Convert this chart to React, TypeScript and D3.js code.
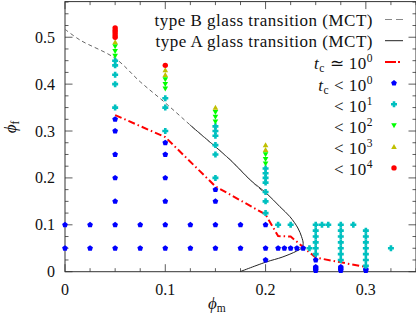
import React from "react";
import * as d3 from "d3";

const W = 416;
const H = 313;
const FONT = "'Liberation Serif', 'Times New Roman', serif";

// axis ticks
const xTickValues = [0, 0.1, 0.2, 0.3];
const xTickLabels = ["0", "0.1", "0.2", "0.3"];
const yTickValues = [0, 0.1, 0.2, 0.3, 0.4, 0.5];
const yTickLabels = ["0", "0.1", "0.2", "0.3", "0.4", "0.5"];

// type B glass transition (MCT), dashed
const typeBPhiM = [0, 0.015, 0.05, 0.075, 0.1, 0.13, 0.165, 0.185, 0.2];
const typeBPhiF = [0.517, 0.494, 0.455, 0.405, 0.36, 0.303, 0.238, 0.195, 0.166];

// type A glass transition (MCT), solid
const typeAPhiM = [0.1246, 0.13, 0.165, 0.185, 0.201, 0.2143, 0.2243, 0.2322, 0.2359, 0.2375, 0.2362, 0.231, 0.2165, 0.201, 0.1745];
const typeAPhiF = [0.313, 0.303, 0.238, 0.195, 0.167, 0.1386, 0.1173, 0.0932, 0.0746, 0.06, 0.051, 0.044, 0.031, 0.021, 0.0];

// t_c ~ 10^0 line, dash-dot red
const tcLinePhiM = [0.05, 0.1, 0.15, 0.2, 0.2125, 0.225, 0.25, 0.275, 0.3];
const tcLinePhiF = [0.334, 0.287, 0.182, 0.122, 0.076, 0.075, 0.03, 0.02, 0.01];

// points [phi_m, phi_f]
const tcBelow1: [number, number][] = [
  [0, 0.05], [0, 0.1], [0.025, 0.05], [0.025, 0.1],
  [0.05, 0.05], [0.05, 0.1], [0.05, 0.15], [0.05, 0.2], [0.05, 0.25], [0.05, 0.3], [0.05, 0.325],
  [0.075, 0.05], [0.075, 0.1],
  [0.1, 0.05], [0.1, 0.1], [0.1, 0.15], [0.1, 0.2], [0.1, 0.25], [0.1, 0.275],
  [0.125, 0.05], [0.125, 0.1],
  [0.15, 0.05], [0.15, 0.1], [0.15, 0.15], [0.15, 0.175],
  [0.175, 0.05], [0.175, 0.1],
  [0.2, 0.025], [0.2, 0.05], [0.2, 0.1],
  [0.2125, 0.05], [0.21875, 0.05], [0.225, 0.05], [0.23125, 0.05], [0.2375, 0.05],
  [0.25, 0.025], [0.25, 0.01], [0.25, 0.0075], [0.25, 0.005], [0.25, 0.0025],
  [0.275, 0.01], [0.275, 0.0075], [0.275, 0.005], [0.275, 0.0025],
  [0.3, 0.005], [0.3, 0.0025],
];

const tcBelow10: [number, number][] = [
  [0.05, 0.35], [0.05, 0.4], [0.05, 0.42], [0.05, 0.44], [0.05, 0.45],
  [0.1, 0.3], [0.1, 0.35], [0.1, 0.37],
  [0.15, 0.2], [0.15, 0.25], [0.15, 0.27], [0.15, 0.29], [0.15, 0.3], [0.15, 0.31],
  [0.2, 0.125], [0.2, 0.15], [0.2, 0.17], [0.2, 0.19], [0.2, 0.2], [0.2, 0.21], [0.2, 0.22],
  [0.2125, 0.1], [0.225, 0.1], [0.24375, 0.05],
  [0.25, 0.1], [0.25, 0.0875], [0.25, 0.075], [0.25, 0.0625], [0.25, 0.05], [0.25, 0.0375],
  [0.25625, 0.1], [0.2625, 0.1],
  [0.275, 0.1], [0.275, 0.0875], [0.275, 0.075], [0.275, 0.0625], [0.275, 0.05], [0.275, 0.0375], [0.275, 0.025],
  [0.2875, 0.1],
  [0.3, 0.0875], [0.3, 0.075], [0.3, 0.0625], [0.3, 0.05], [0.3, 0.0375], [0.3, 0.025], [0.3, 0.0125],
  [0.325, 0.05],
];

const tcBelow100: [number, number][] = [
  [0.05, 0.46], [0.05, 0.47], [0.05, 0.48],
  [0.1, 0.39], [0.1, 0.4], [0.1, 0.41],
  [0.15, 0.32], [0.15, 0.33], [0.15, 0.34],
  [0.2, 0.23], [0.2, 0.24], [0.2, 0.25],
];

const tcBelow1000: [number, number][] = [
  [0.05, 0.49],
  [0.1, 0.42], [0.1, 0.43],
  [0.15, 0.35],
  [0.2, 0.26], [0.2, 0.27],
];

const tcBelow10000: [number, number][] = [
  [0.05, 0.5], [0.05, 0.505], [0.05, 0.51], [0.05, 0.515], [0.05, 0.52],
  [0.1, 0.44],
];

const BLUE = "#0000ff";
const CYAN = "#00c0c0";
const GREEN = "#00ff00";
const OLIVE = "#c0c000";
const RED = "#ff0000";

const poly = (pts: number[][]) => "M" + pts.map((p) => p.join(",")).join("L") + "Z";
const pentagonPath = (r: number) =>
  poly(d3.range(5).map((k) => {
    const a = -Math.PI / 2 + (k * 2 * Math.PI) / 5;
    return [r * Math.cos(a), r * Math.sin(a)];
  }));
const crossPath = (c: number, l: number) =>
  poly([[-c, -l], [c, -l], [c, -c], [l, -c], [l, c], [c, c], [c, l], [-c, l], [-c, c], [-l, c], [-l, -c], [-c, -c]]);
const triDown = (w: number, h: number) => poly([[-w, -h * 0.45], [w, -h * 0.45], [0, h * 0.55]]);
const triUp = (w: number, h: number) => poly([[-w, h * 0.45], [w, h * 0.45], [0, -h * 0.55]]);
const circlePath = (r: number) => `M${-r},0A${r},${r} 0 1,0 ${r},0A${r},${r} 0 1,0 ${-r},0Z`;

const SHAPES = {
  blue: pentagonPath(3),
  cyan: crossPath(1.3, 3),
  green: triDown(2.8, 5),
  olive: triUp(2.8, 5),
  red: circlePath(2.7),
};

export default function App() {
  const x = d3.scaleLinear().domain([0, 0.35]).range([65, 416]);
  const y = d3.scaleLinear().domain([0, 0.576]).range([271.7, 1.6]);

  const lineGen = (curve: any) =>
    d3.line<[number, number]>().x((d) => x(d[0])).y((d) => y(d[1])).curve(curve);

  const bPts = typeBPhiM.map((m, i) => [m, typeBPhiF[i]] as [number, number]);
  const aPts = typeAPhiM.map((m, i) => [m, typeAPhiF[i]] as [number, number]);
  const rPts = tcLinePhiM.map((m, i) => [m, tcLinePhiF[i]] as [number, number]);

  const xMinor = d3.range(0, 0.3501, 0.025);
  const yMinor = d3.range(0, 0.576, 0.025);
  const isMajor = (v: number) => Math.abs(v * 10 - Math.round(v * 10)) < 1e-6;

  const x0 = x(0), x1 = x(0.35), y0 = y(0), y1 = y(0.576);
  const axisColor = "#333";

  const groups: { pts: [number, number][]; shape: string; color: string }[] = [
    { pts: tcBelow1, shape: SHAPES.blue, color: BLUE },
    { pts: tcBelow10, shape: SHAPES.cyan, color: CYAN },
    { pts: tcBelow100, shape: SHAPES.green, color: GREEN },
    { pts: tcBelow1000, shape: SHAPES.olive, color: OLIVE },
    { pts: tcBelow10000, shape: SHAPES.red, color: RED },
  ];

  const legX = 373;
  const sampleX0 = 385, sampleX1 = 403, sampleXC = 394;
  const rowY = (i: number) => 19.5 + 21.2 * i;
  const fs = 16;
  const lfs = 17;
  const sub = 11.5;

  return (
    <svg width={W} height={H} style={{ position: "absolute", left: 0, top: 0, background: "#fff" }} fontFamily={FONT}>
      <rect x={0} y={0} width={W} height={H} fill="#fff" />
      {/* frame */}
      <rect x={x0} y={y1} width={x1 - x0} height={y0 - y1} fill="none" stroke={axisColor} strokeWidth={1} />
      {/* ticks */}
      {xMinor.map((v, i) => {
        const len = isMajor(v) ? 7.5 : 3.5;
        return (
          <g key={"xt" + i} stroke={axisColor} strokeWidth={0.8}>
            <line x1={x(v)} x2={x(v)} y1={y0} y2={y0 - len} />
            <line x1={x(v)} x2={x(v)} y1={y1} y2={y1 + len} />
          </g>
        );
      })}
      {yMinor.map((v, i) => {
        const len = isMajor(v) ? 7.5 : 3.5;
        return (
          <g key={"yt" + i} stroke={axisColor} strokeWidth={0.8}>
            <line x1={x0} x2={x0 + len} y1={y(v)} y2={y(v)} />
            <line x1={x1} x2={x1 - len} y1={y(v)} y2={y(v)} />
          </g>
        );
      })}
      {xTickValues.map((v, i) => (
        <text key={"xl" + i} x={x(v)} y={295} textAnchor="middle" fontSize={fs} fill="#111">{xTickLabels[i]}</text>
      ))}
      {yTickValues.map((v, i) => (
        <text key={"yl" + i} x={55} y={y(v) + 5.5} textAnchor="end" fontSize={fs} fill="#111">{yTickLabels[i]}</text>
      ))}
      {/* axis titles */}
      <text x={208} y={309} fontSize={17} fill="#111">
        <tspan fontStyle="italic">ϕ</tspan>
        <tspan fontSize={sub} dy={3}>m</tspan>
      </text>
      <text transform="translate(16,127) rotate(-90)" fontSize={17} textAnchor="middle" fill="#111">
        <tspan fontStyle="italic">ϕ</tspan>
        <tspan fontSize={sub} dy={3}>f</tspan>
      </text>

      {/* curves */}
      <path d={lineGen(d3.curveCatmullRom)(aPts) || ""} fill="none" stroke="#222" strokeWidth={1} />
      <path d={lineGen(d3.curveCatmullRom)(bPts) || ""} fill="none" stroke="#666" strokeWidth={1} strokeDasharray="4,3" />
      <path d={lineGen(d3.curveLinear)(rPts) || ""} fill="none" stroke={RED} strokeWidth={2} strokeDasharray="7,3,1.5,3" />

      {/* points */}
      {groups.map((g, gi) =>
        g.pts.map((p, i) => (
          <path key={"p" + gi + "_" + i} d={g.shape} transform={`translate(${x(p[0])},${y(p[1])})`} fill={g.color} />
        ))
      )}

      {/* legend */}
      <g fontSize={lfs} fill="#111" letterSpacing={0.5}>
        <text x={legX} y={rowY(0) + 6.5} textAnchor="end">type B glass transition (MCT)</text>
        <line x1={sampleX0} x2={sampleX1} y1={rowY(0)} y2={rowY(0)} stroke="#888" strokeWidth={1} strokeDasharray="7,4" />
        <text x={legX} y={rowY(1) + 6.5} textAnchor="end">type A glass transition (MCT)</text>
        <line x1={sampleX0} x2={sampleX1} y1={rowY(1)} y2={rowY(1)} stroke="#222" strokeWidth={1} />
        <text x={legX} y={rowY(2) + 7.5} textAnchor="end">
          <tspan fontStyle="italic">t</tspan>
          <tspan fontSize={sub} dy={3}>c</tspan>
          <tspan dy={-3}>{" ≃ 10"}</tspan>
          <tspan fontSize={sub} dy={-7}>0</tspan>
        </text>
        <line x1={sampleX0} x2={sampleX1} y1={rowY(2)} y2={rowY(2)} stroke={RED} strokeWidth={2} strokeDasharray="11,2,2,3" />
        <text x={legX} y={rowY(3) + 7.5} textAnchor="end">
          <tspan fontStyle="italic">t</tspan>
          <tspan fontSize={sub} dy={3}>c</tspan>
          <tspan dy={-3}>{" < 10"}</tspan>
          <tspan fontSize={sub} dy={-7}>0</tspan>
        </text>
        <path d={SHAPES.blue} transform={`translate(${sampleXC},${rowY(3)})`} fill={BLUE} />
        <text x={legX} y={rowY(4) + 7.5} textAnchor="end">
          <tspan>{"< 10"}</tspan>
          <tspan fontSize={sub} dy={-7}>1</tspan>
        </text>
        <path d={SHAPES.cyan} transform={`translate(${sampleXC},${rowY(4)})`} fill={CYAN} />
        <text x={legX} y={rowY(5) + 7.5} textAnchor="end">
          <tspan>{"< 10"}</tspan>
          <tspan fontSize={sub} dy={-7}>2</tspan>
        </text>
        <path d={SHAPES.green} transform={`translate(${sampleXC},${rowY(5)})`} fill={GREEN} />
        <text x={legX} y={rowY(6) + 7.5} textAnchor="end">
          <tspan>{"< 10"}</tspan>
          <tspan fontSize={sub} dy={-7}>3</tspan>
        </text>
        <path d={SHAPES.olive} transform={`translate(${sampleXC},${rowY(6)})`} fill={OLIVE} />
        <text x={legX} y={rowY(7) + 7.5} textAnchor="end">
          <tspan>{"< 10"}</tspan>
          <tspan fontSize={sub} dy={-7}>4</tspan>
        </text>
        <path d={SHAPES.red} transform={`translate(${sampleXC},${rowY(7)})`} fill={RED} />
      </g>
    </svg>
  );
}
